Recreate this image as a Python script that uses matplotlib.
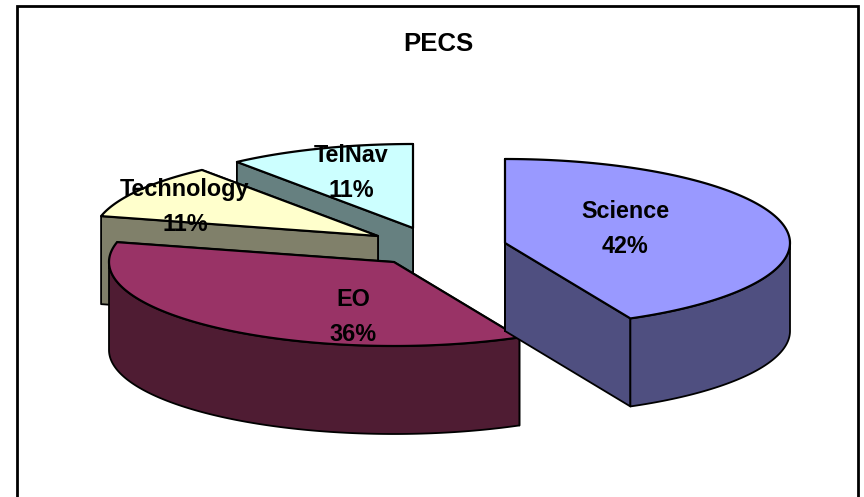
import numpy as np
import matplotlib
matplotlib.use("Agg")
import matplotlib.pyplot as plt

# 数据
categories = ["Science", "EO", "Technology", "TelNav"]
values = [42.75, 36.05, 10.6, 10.6]
percent_labels = ["42%", "36%", "11%", "11%"]

# 样式
top_colors = ["#9999FF", "#993366", "#FFFFCC", "#CCFFFF"]
side_colors = ["#4F4F80", "#4F1C33", "#80806A", "#668080"]
centers = [(505, 243), (394, 262), (378, 236), (413, 228)]  # exploded slices
label_pos = [(625, 229), (353, 317), (185, 207), (351, 173)]

RX, RY, DEPTH = 285, 84, 88
W, H = 864, 497

plt.rcParams["font.family"] = ["Liberation Sans", "DejaVu Sans"]

fig = plt.figure(figsize=(W / 100, H / 100), dpi=100)
ax = fig.add_axes([0, 0, 1, 1])
ax.set_xlim(0, W)
ax.set_ylim(H, 0)
ax.axis("off")


# 角度从12点方向顺时针
def rim(center, a0, a1, n=120):
    t = np.radians(np.linspace(a0, a1, n))
    return center[0] + RX * np.sin(t), center[1] - RY * np.cos(t)


def draw_slice(center, a0, a1, top, side):
    cx, cy = center
    lw = 1.3
    # 两个切面
    for ang in (a1, a0):
        x, y = rim(center, ang, ang, 1)
        ax.fill([cx, x[0], x[0], cx], [cy, y[0], y[0] + DEPTH, cy + DEPTH],
                facecolor=side, edgecolor="black", lw=lw, joinstyle="round")
    # 外侧弧面 (只画朝前的部分)
    f0, f1 = max(a0, 90), min(a1, 270)
    if f1 > f0:
        x, y = rim(center, f0, f1)
        ax.fill(np.r_[x, x[::-1]], np.r_[y, y[::-1] + DEPTH],
                facecolor=side, edgecolor="black", lw=lw, joinstyle="round")
    # 顶面
    x, y = rim(center, a0, a1)
    ax.fill(np.r_[cx, x], np.r_[cy, y], facecolor=top, edgecolor="black",
            lw=lw + 0.3, joinstyle="round")


# 图表外框 (底边在图外)
ax.plot([17, 17, 858, 858], [H + 5, 6, 6, H + 5], color="black", lw=2.0,
        solid_joinstyle="miter")

angles = np.r_[0, np.cumsum(values)] / np.sum(values) * 360

# 从后往前画
for i in [3, 2, 1, 0]:
    draw_slice(centers[i], angles[i], angles[i + 1], top_colors[i], side_colors[i])

for i in range(len(categories)):
    ax.text(label_pos[i][0], label_pos[i][1], categories[i] + "\n" + percent_labels[i],
            ha="center", va="center", fontsize=16.8, fontweight="bold", linespacing=1.7)

ax.text(438, 44, "PECS", ha="center", va="center", fontsize=18.5, fontweight="bold")

fig.savefig("out.png", dpi=100)
